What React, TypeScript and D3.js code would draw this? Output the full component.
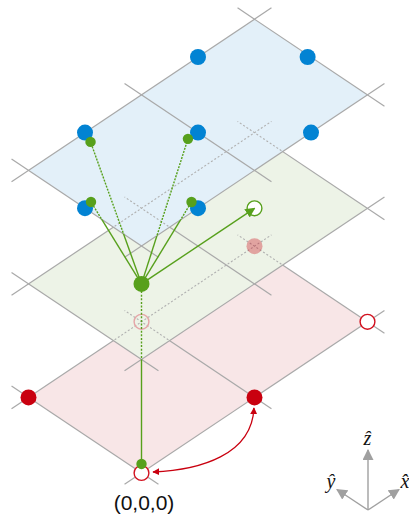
import React from "react";
import * as d3 from "d3";

type P = [number, number, number];

// lattice coordinates: [a along x-hat, b along y-hat, plane level z]
const planes = [0, 1, 2];
const planeFills = ["#f8e6e7", "#edf3e7", "#e3f0f9"];
const cornerA = [0, 2];
const cornerB = [0, 1];
const gridA = [0, 1, 2];
const gridB = [0, 1];
const stub = 0.15;

const redFilled: P[] = [[0, 1, 0], [1, 0, 0]];
const redOpen: P[] = [[0, 0, 0], [2, 0, 0]];
const redFadedOpen: P[] = [[1, 1, 0]];
const redFadedFilled: P[] = [[2, 1, 0]];
const blueAtoms: P[] = [
  [0, 0.5, 2], [0.5, 0, 2], [0.5, 1, 2], [1, 0.5, 2],
  [1.5, 0, 2], [1.5, 1, 2], [1.985, 0.515, 2],
];
const greenCentre: P = [0.5, 0.5, 1];
const greenOpen: P = [1.5, 0.5, 1];
const greenSmallTop: P[] = [
  [0.463, 0.914, 2], [0.914, 0.503, 2], [0.068, 0.515, 2], [0.5125, 0.07, 2],
];
const greenSmallOrigin: P = [0.06, 0.06, 0];
const hopCurve: P[] = [
  [0.928, -0.067, 0], [0.608, -0.37, 0], [0.279, -0.239, 0], [0.0575, -0.0445, 0],
];

const width = 409;
const height = 514;
const xS = d3.scaleLinear().domain([0, 1]).range([141.5, 254.5]);
const yS = d3.scaleLinear().domain([0, 1]).range([473, 397.4]);
const zS = d3.scaleLinear().domain([0, 1]).range([0, -113.5]);
const px = (p: P) => xS(p[0] - p[1]);
const py = (p: P) => yS(p[0] + p[1]) + zS(p[2]);

const line = d3.line<P>().x(px).y(py);
const planePoly = (z: number): P[] => [
  [cornerA[0], cornerB[0], z],
  [cornerA[1], cornerB[0], z],
  [cornerA[1], cornerB[1], z],
  [cornerA[0], cornerB[1], z],
];
const planePath = (z: number) => line(planePoly(z))! + "Z";

const gridSegments = (z: number): P[][] => [
  ...gridB.map((b): P[] => [[cornerA[0] - stub, b, z], [cornerA[1] + stub, b, z]]),
  ...gridA.map((a): P[] => [[a, cornerB[0] - stub, z], [a, cornerB[1] + stub, z]]),
];

const hopPath = () => {
  const c = d3.path();
  c.moveTo(px(hopCurve[0]), py(hopCurve[0]));
  c.bezierCurveTo(px(hopCurve[1]), py(hopCurve[1]), px(hopCurve[2]), py(hopCurve[2]), px(hopCurve[3]), py(hopCurve[3]));
  return c.toString();
};

const GRID = "#a9a9a9";
const RED = "#c9000f";
const GREEN = "#57a01c";
const BLUE = "#0283d3";
const AXIS = "#a0a0a0";
const axisO: [number, number] = [368, 510];
const axisTips: [number, number][] = [[368, 450], [399, 489.5], [337, 489.5]];

const Grid = ({ z }: { z: number }) => (
  <g stroke={GRID} strokeWidth={1.2} fill="none">
    {gridSegments(z).map((s, i) => <path key={i} d={line(s)!} />)}
  </g>
);
const GridHidden = ({ z, clip }: { z: number; clip: string }) => (
  <g stroke="#b0b0b0" strokeWidth={1.1} strokeDasharray="2 2" fill="none" clipPath={`url(#${clip})`}>
    {gridSegments(z).map((s, i) => <path key={i} d={line(s)!} />)}
  </g>
);
const Dot = ({ p, r, fill, stroke, sw = 1.4, opacity = 1 }: { p: P; r: number; fill: string; stroke?: string; sw?: number; opacity?: number }) => (
  <circle cx={px(p)} cy={py(p)} r={r} fill={fill} stroke={stroke ?? "none"} strokeWidth={sw} opacity={opacity} />
);

export default function App() {
  const frame = `M0,0H${width}V${height}H0Z`;
  const towers: P[] = greenSmallTop;
  return (
    <svg width={width} height={height} style={{ position: "absolute", left: 0, top: 0 }}>
      <defs>
        <clipPath id="inGreen"><path d={planePath(1)} /></clipPath>
        <clipPath id="inBlue"><path d={planePath(2)} /></clipPath>
        <clipPath id="outGreen"><path d={frame + planePath(1)} clipRule="evenodd" /></clipPath>
        <clipPath id="outBlue"><path d={frame + planePath(2)} clipRule="evenodd" /></clipPath>
        <marker id="hG" viewBox="0 0 10 10" refX="9" refY="5" markerWidth="10" markerHeight="10" markerUnits="userSpaceOnUse" orient="auto">
          <path d="M0,0L10,5L0,10Z" fill={GREEN} />
        </marker>
        <marker id="hR" viewBox="0 0 10 10" refX="9" refY="5" markerWidth="7" markerHeight="7" markerUnits="userSpaceOnUse" orient="auto-start-reverse">
          <path d="M0,0L10,5L0,10Z" fill={RED} />
        </marker>
        <marker id="hA" viewBox="0 0 10 10" refX="9" refY="5" markerWidth="11" markerHeight="11" markerUnits="userSpaceOnUse" orient="auto">
          <path d="M0,0L10,5L0,10Z" fill={AXIS} />
        </marker>
      </defs>

      {/* lower plane */}
      <path d={planePath(planes[0])} fill={planeFills[0]} />
      <Grid z={planes[0]} />
      {redFilled.map((p, i) => <Dot key={i} p={p} r={8} fill={RED} />)}
      {redOpen.map((p, i) => <Dot key={i} p={p} r={7.4} fill="#fff" stroke="#d2101e" />)}

      {/* middle plane */}
      <path d={planePath(planes[1])} fill={planeFills[1]} />
      <Grid z={planes[1]} />
      <GridHidden z={planes[0]} clip="inGreen" />
      {redFadedOpen.map((p, i) => <Dot key={i} p={p} r={7.4} fill="none" stroke="#e5a5a7" />)}
      {redFadedFilled.map((p, i) => <Dot key={i} p={p} r={8} fill={RED} opacity={0.33} />)}
      <Dot p={greenOpen} r={7.4} fill="#fff" stroke={GREEN} />

      {/* upper plane */}
      <path d={planePath(planes[2])} fill={planeFills[2]} />
      <Grid z={planes[2]} />
      <GridHidden z={planes[1]} clip="inBlue" />
      {blueAtoms.map((p, i) => <Dot key={i} p={p} r={8} fill={BLUE} />)}

      {/* bonds */}
      <g fill="none" stroke={GREEN} strokeWidth={1.4}>
        {towers.map((p, i) => (
          <g key={i}>
            <path d={line([greenCentre, p])!} clipPath="url(#outBlue)" />
            <path d={line([greenCentre, p])!} clipPath="url(#inBlue)" strokeDasharray="2 1.2" />
          </g>
        ))}
        <path d={line([greenCentre, greenSmallOrigin])!} clipPath="url(#outGreen)" />
        <path d={line([greenCentre, greenSmallOrigin])!} clipPath="url(#inGreen)" strokeDasharray="2 1.6" />
        <path d={line([greenCentre, greenOpen])!} markerEnd="url(#hG)" />
      </g>
      <path d={hopPath()} fill="none" stroke={RED} strokeWidth={1.3} markerStart="url(#hR)" markerEnd="url(#hR)" />

      <Dot p={greenCentre} r={8} fill={GREEN} />
      {towers.map((p, i) => <Dot key={i} p={p} r={5.2} fill={GREEN} />)}
      <Dot p={greenSmallOrigin} r={5.2} fill={GREEN} />

      <text x={144} y={510} textAnchor="middle" fontFamily="Liberation Sans" fontSize={21} fill="#111">(0,0,0)</text>

      {/* axes */}
      <g stroke={AXIS} strokeWidth={1.4}>
        {axisTips.map((t, i) => (
          <line key={i} x1={axisO[0]} y1={axisO[1]} x2={t[0]} y2={t[1]} markerEnd="url(#hA)" />
        ))}
      </g>
      <g fontFamily="Liberation Serif" fontStyle="italic" fontSize={20} fill="#111" textAnchor="middle">
        <text x={367.5} y={445}>z&#x0302;</text>
        <text x={331} y={488}>y&#x0302;</text>
        <text x={405} y={488}>x&#x0302;</text>
      </g>
    </svg>
  );
}
